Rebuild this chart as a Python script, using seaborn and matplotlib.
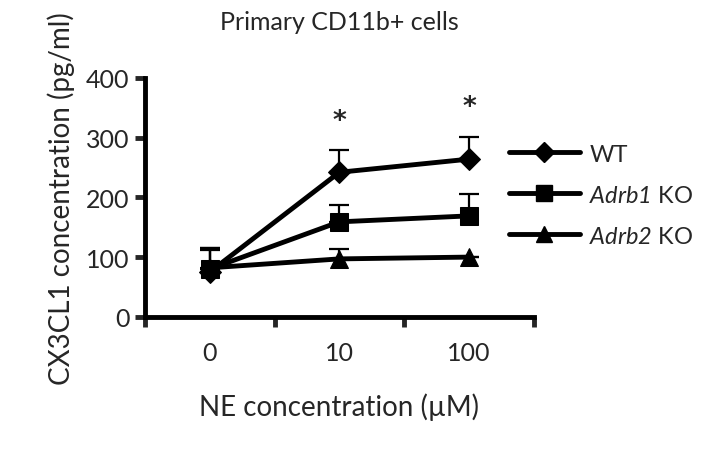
import numpy as np
import pandas as pd
import matplotlib.pyplot as plt
import seaborn as sns
from matplotlib.lines import Line2D

# Values
doses = ['0', '10', '100']
groups = ['WT', 'Adrb1 KO', 'Adrb2 KO']
wt = [75, 242, 264]
wt_err = [40, 37, 37]
adrb1 = [80, 159, 169]
adrb1_err = [35, 28, 37]
adrb2 = [82, 97, 100]
adrb2_err = [30, 17, 0]
star_doses = ['10', '100']
star_values = [328, 352]

sns.set_style('white')
plt.rcParams['font.family'] = ['Lato', 'DejaVu Sans']
# italic gene names (digits included) via mathtext
plt.rcParams['mathtext.fontset'] = 'custom'
plt.rcParams['mathtext.it'] = 'Lato:italic'
plt.rcParams['mathtext.rm'] = 'Lato:italic'

pos = {d: i + 0.5 for i, d in enumerate(doses)}
df = pd.DataFrame({
    'dose': doses * 3,
    'value': wt + adrb1 + adrb2,
    'err': wt_err + adrb1_err + adrb2_err,
    'group': np.repeat(groups, len(doses)),
})
df['x'] = df['dose'].map(pos)

fig = plt.figure(figsize=(7.07, 4.56), dpi=100)
ax = fig.add_axes([0.205, 0.303, 0.55, 0.524])

markers = {'WT': 'D', 'Adrb1 KO': 's', 'Adrb2 KO': '^'}
sizes = {'WT': 11, 'Adrb1 KO': 13, 'Adrb2 KO': 13}

# upward-only error bars
for g, sub in df.groupby('group'):
    ax.errorbar(sub['x'], sub['value'], yerr=[np.zeros(len(sub)), sub['err']],
                fmt='none', ecolor='black', elinewidth=1.6, capsize=7, capthick=1.6, zorder=2)

sns.lineplot(data=df, x='x', y='value', hue='group', style='group',
             palette=['black'] * 3, markers=markers, dashes=False,
             linewidth=3.5, markeredgecolor='black', ax=ax, zorder=3, legend=False)
for line, g in zip(ax.lines[-3:], groups):
    line.set_markersize(sizes[g])

for d, v in zip(star_doses, star_values):
    ax.text(pos[d], v, '*', ha='center', va='center', fontsize=19,
            fontweight='bold', family='DejaVu Sans')

ax.set_xlim(0, 3)
ax.set_ylim(0, 400)
ax.set_xticks([0, 1, 2, 3])
ax.set_xticklabels([])
for d in doses:
    ax.text(pos[d], -60, d, ha='center', va='center', fontsize=18)
ax.set_yticks([0, 100, 200, 300, 400])
ax.tick_params(axis='y', labelsize=18, direction='out', length=7, width=3.5, left=True, pad=4)
ax.tick_params(axis='x', direction='out', length=7, width=3.5, bottom=True)
for s in ['top', 'right']:
    ax.spines[s].set_visible(False)
for s in ['left', 'bottom']:
    ax.spines[s].set_linewidth(3.5)
    ax.spines[s].set_color('black')

ax.set_xlabel('NE concentration (µM)', fontsize=20, labelpad=44)
ax.set_ylabel('CX3CL1 concentration (pg/ml)', fontsize=20, labelpad=8)
ax.set_title('Primary CD11b+ cells', fontsize=18, pad=35)

# legend
handles = [Line2D([], [], color='black', lw=3.5, marker=markers[g], markersize=sizes[g] - 1)
           for g in groups]
labels = ['WT', r'$\mathrm{Adrb1}$ KO', r'$\mathrm{Adrb2}$ KO']
fig.legend(handles, labels, loc='center left', bbox_to_anchor=(0.69, 0.57),
           frameon=False, fontsize=17, handlelength=3.0, labelspacing=0.85, handletextpad=0.4)

fig.savefig('out.png', dpi=100)
